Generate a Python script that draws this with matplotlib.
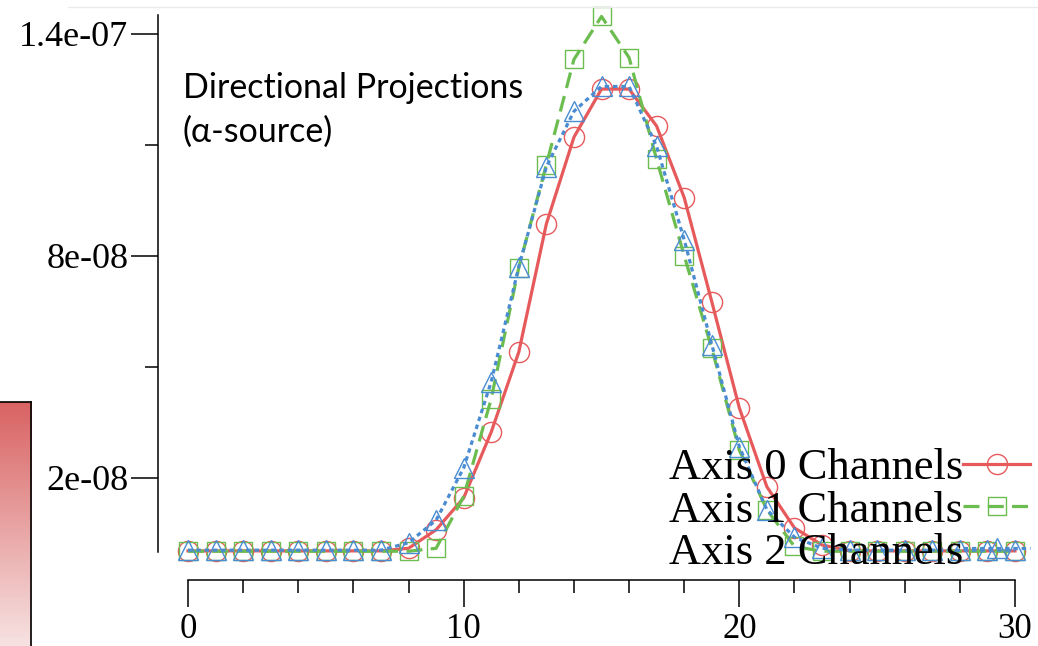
import numpy as np
import matplotlib

matplotlib.use("Agg")
import matplotlib.pyplot as plt
from matplotlib.colors import LinearSegmentedColormap
from matplotlib.lines import Line2D
from matplotlib.ticker import FixedLocator, FuncFormatter

# Projection data (values in units of 1e-8)
channels = list(range(31))
axis0 = [0.03, 0.03, 0.03, 0.03, 0.03, 0.03, 0.03, 0.03,
         0.1, 0.6, 1.46, 3.24, 5.4, 8.86, 11.2, 12.5, 12.5, 11.5,
         9.57, 6.76, 3.89, 1.76, 0.65, 0.19,
         0.03, 0.03, 0.03, 0.03, 0.03, 0.03, 0.03]
axis1 = [0.02, 0.02, 0.02, 0.02, 0.02, 0.02, 0.02, 0.02, 0.02,
         0.1, 1.5, 4.14, 7.68, 10.46, 13.3, 14.46, 13.35, 10.6,
         8.0, 5.5, 2.75, 1.14, 0.15,
         0.02, 0.02, 0.02, 0.02, 0.02, 0.02, 0.02, 0.02]
axis2 = [0.05, 0.05, 0.05, 0.05, 0.05, 0.05, 0.05, 0.05,
         0.25, 0.86, 2.27, 4.6, 7.7, 10.4, 11.9, 12.57, 12.57, 10.95,
         8.43, 5.6, 2.84, 1.14, 0.4, 0.1,
         0.05, 0.05, 0.05, 0.05, 0.05, 0.05, 0.05]
series_labels = ["Axis 0 Channels", "Axis 1 Channels", "Axis 2 Channels"]

y_major = [2e-08, 8e-08, 1.4e-07]
y_minor = [5e-08, 1.1e-07]
x_major = [0, 10, 20, 30]
x_minor = [2, 4, 6, 8, 12, 14, 16, 18, 22, 24, 26, 28]

COLOR_RED = "#E65A5C"
COLOR_GREEN = "#6CBD4F"
COLOR_BLUE = "#4A8CD2"

fig = plt.figure(figsize=(10.38, 6.46), dpi=100, facecolor="white")
ax = fig.add_axes([188 / 1038, 94 / 646, 827 / 1038, 537 / 646])
ax.patch.set_alpha(0)

scale = 1e-8
styles = [
    (axis0, COLOR_RED, "o", dict(linestyle="-")),
    (axis1, COLOR_GREEN, "s", dict(dashes=(5, 2.6))),
    (axis2, COLOR_BLUE, "^", dict(dashes=(1.4, 1.2))),
]
for (vals, color, marker, ls), label in zip(styles, series_labels):
    ax.plot(
        channels,
        np.array(vals) * scale,
        color=color,
        linewidth=2.3,
        marker=marker,
        markersize=14.5 if marker != "s" else 12.5,
        markerfacecolor="none",
        markeredgecolor=color,
        markeredgewidth=1.0,
        label=label,
        clip_on=False,
        **ls,
    )

ax.set_xlim(0, 30)
ax.set_ylim(0, 1.45e-07)

for side in ["top", "right"]:
    ax.spines[side].set_visible(False)
ax.spines["left"].set_position(("outward", 21.6))
ax.spines["bottom"].set_position(("outward", 20.2))
ax.spines["left"].set_linewidth(1.1)
ax.spines["bottom"].set_linewidth(1.1)

ax.xaxis.set_major_locator(FixedLocator(x_major))
ax.xaxis.set_minor_locator(FixedLocator(x_minor))
ax.yaxis.set_major_locator(FixedLocator(y_major))
ax.yaxis.set_minor_locator(FixedLocator(y_minor))
ax.yaxis.set_major_formatter(FuncFormatter(lambda v, p: f"{v:g}"))
ax.tick_params(which="major", direction="out", length=19.5, width=1.1, pad=2)
ax.tick_params(which="minor", direction="out", length=9.5, width=1.1)
ax.tick_params(axis="x", which="major", pad=4)
for lbl in ax.get_yticklabels():
    lbl.set_fontfamily("Liberation Serif")
    lbl.set_fontsize(26)
for lbl in ax.get_xticklabels():
    lbl.set_fontfamily("Liberation Serif")
    lbl.set_fontsize(25)

ax.legend(
    loc="lower right",
    bbox_to_anchor=(1030 / 1038, 73 / 646),
    bbox_transform=fig.transFigure,
    frameon=False,
    markerfirst=False,
    prop=dict(family="Liberation Serif", size=32),
    handlelength=1.5,
    handletextpad=0.0,
    labelspacing=0.05,
    borderpad=0,
    borderaxespad=0,
    numpoints=1,
)

fig.text(
    183 / 1038,
    1 - 72 / 646,
    "Directional Projections\n(\u03b1-source)",
    fontsize=24.5,
    fontfamily="Lato",
    va="top",
    ha="left",
    linespacing=1.45,
)

# Partial color strip at the lower-left edge
cax = fig.add_axes([-0.03, -0.05, 0.06, 1 - 402 / 646 + 0.05])
cmap = LinearSegmentedColormap.from_list("redwhite", ["#FBF3F3", "#D96262"])
cax.imshow(np.linspace(0, 1, 256).reshape(-1, 1), aspect="auto", cmap=cmap, origin="lower")
cax.set_xticks([])
cax.set_yticks([])
for side in ["left", "bottom"]:
    cax.spines[side].set_visible(False)
cax.spines["top"].set_linewidth(1.2)
cax.spines["right"].set_linewidth(1.2)

# Faint rule at the top
fig.add_artist(Line2D([68 / 1038, 1.0], [1 - 7 / 646, 1 - 7 / 646], transform=fig.transFigure,
                      color="#EBEBEB", linewidth=1.0))

fig.savefig("out.png", dpi=100, facecolor="white")
plt.close(fig)
